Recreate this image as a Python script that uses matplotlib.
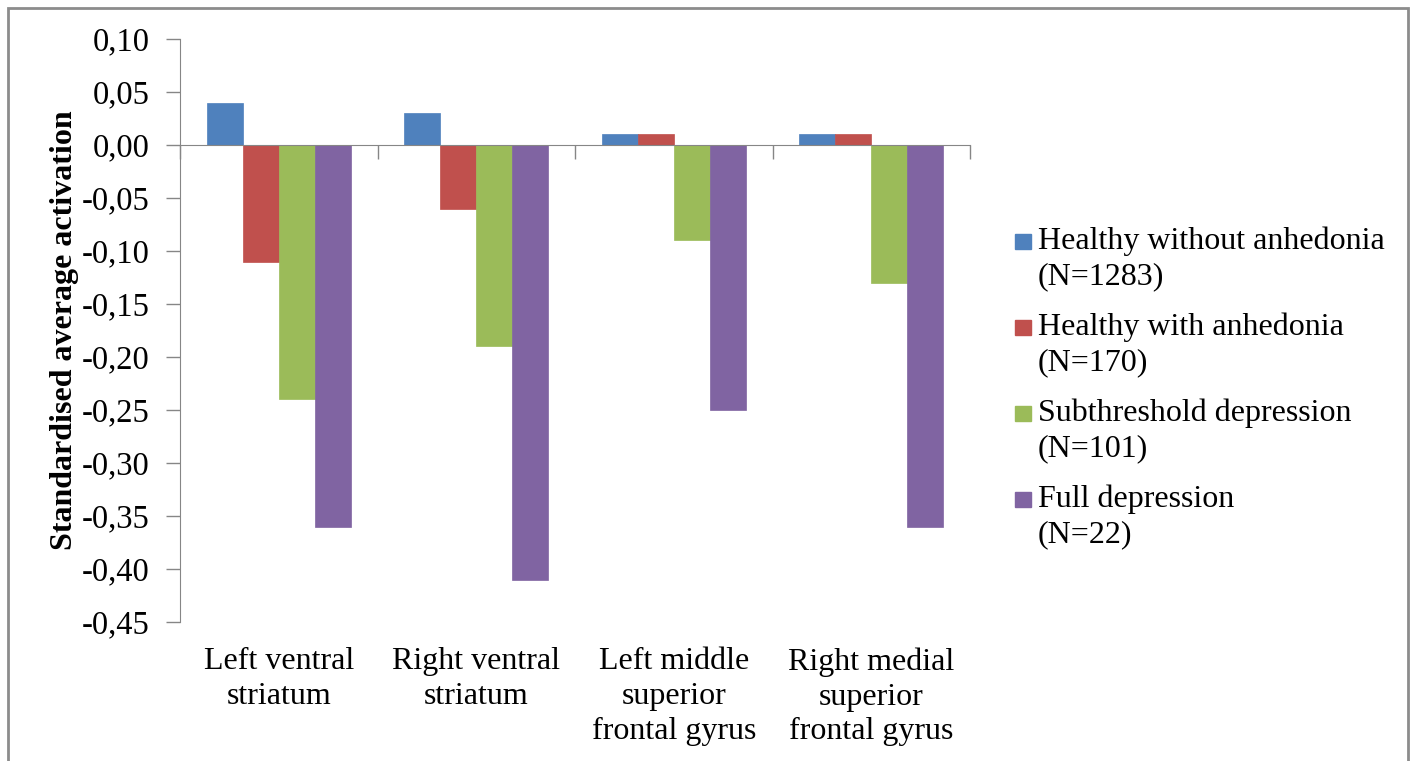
import matplotlib
matplotlib.use("Agg")
import matplotlib.pyplot as plt
from matplotlib.patches import Rectangle
from matplotlib.transforms import blended_transform_factory
import numpy as np

plt.rcParams['font.family'] = ['Liberation Serif', 'DejaVu Serif']

regions = ["Left ventral\nstriatum", "Right ventral\nstriatum",
           "Left middle\nsuperior\nfrontal gyrus", "Right medial\nsuperior\nfrontal gyrus"]
groups = ["Healthy without anhedonia\n(N=1283)", "Healthy with anhedonia\n(N=170)",
          "Subthreshold depression\n(N=101)", "Full depression\n(N=22)"]
healthy_no_anhedonia = [0.04, 0.03, 0.01, 0.01]
healthy_anhedonia = [-0.11, -0.06, 0.01, 0.01]
subthreshold = [-0.24, -0.19, -0.09, -0.13]
full_depression = [-0.36, -0.41, -0.25, -0.36]
yticks = np.round(np.arange(0.10, -0.4501, -0.05), 2)

series = [healthy_no_anhedonia, healthy_anhedonia, subthreshold, full_depression]
colors = ["#4F81BD", "#C0504D", "#9BBB59", "#8064A2"]

W, H = 1412, 761
fig = plt.figure(figsize=(W / 100, H / 100), dpi=100)
ax = fig.add_axes([180 / W, 1 - 622 / H, 790 / W, 583 / H])

x = np.arange(len(regions))
bw = 1 / 5.5  # gap width 150% of a bar
for i, (vals, col) in enumerate(zip(series, colors)):
    ax.bar(x + (i - 1.5) * bw, vals, width=bw, color=col, edgecolor=col,
           linewidth=0.5, zorder=2)

ax.set_xlim(-0.5, len(regions) - 0.5)
ax.set_ylim(yticks[-1], yticks[0])
ax.set_yticks(yticks)
ax.set_yticklabels([f"{v:.2f}".replace(".", ",").replace("-0,00", "0,00") for v in yticks])

axis_col = "#868686"
for s in ["top", "right"]:
    ax.spines[s].set_visible(False)
ax.spines["left"].set_color(axis_col)
ax.spines["bottom"].set_position(("data", 0))
ax.spines["bottom"].set_color(axis_col)
ax.spines["bottom"].set_zorder(3)
ax.set_xticks(np.arange(-0.5, len(regions), 1.0))
ax.set_xticklabels([])
ax.tick_params(axis="x", direction="out", length=10, color=axis_col, width=1)
ax.tick_params(axis="y", direction="out", length=10, color=axis_col, width=1,
               labelsize=23.5, pad=12)

tr = blended_transform_factory(ax.transData, ax.transAxes)
for xi, lab in zip(x, regions):
    ax.text(xi, -0.043, lab, transform=tr, ha="center", va="top",
            fontsize=23, linespacing=1.27)

ax.set_ylabel("Standardised average activation", fontsize=23, fontweight="bold",
              labelpad=2)

# legend: square marker beside the first line of each entry
for i, (lab, col) in enumerate(zip(groups, colors)):
    yc = 1 - (241 + i * 86) / H
    fig.patches.append(Rectangle((1015 / W, yc - 7.5 / H), 16 / W, 15 / H,
                                 transform=fig.transFigure, color=col))
    fig.text(1038 / W, yc + 14 / H, lab, fontsize=23, va="top", ha="left",
             linespacing=1.26, transform=fig.transFigure)

# outer frame
fig.patches.append(Rectangle((8 / W, -0.05), 1400 / W, 1 - 8 / H + 0.05,
                             transform=fig.transFigure, fill=False,
                             edgecolor="#8C8C8C", linewidth=2))

fig.savefig("out.png", dpi=100)
